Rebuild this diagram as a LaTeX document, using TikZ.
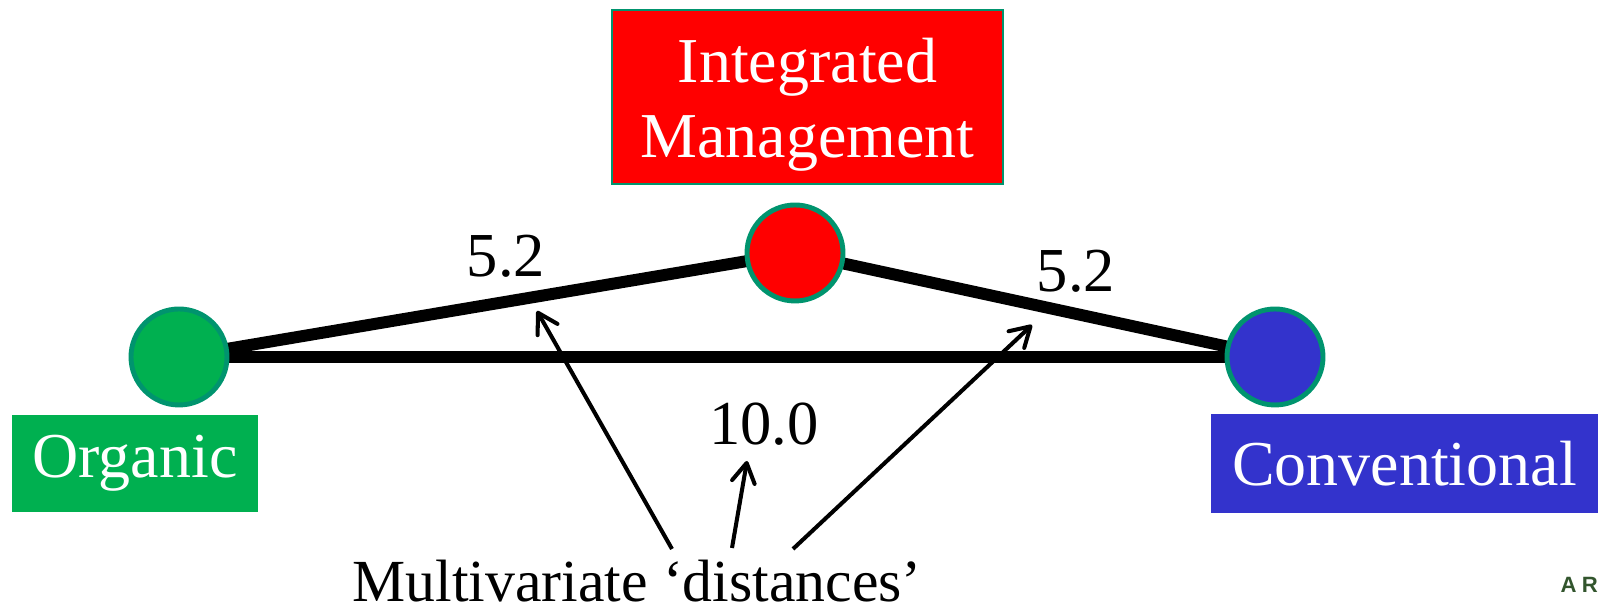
\documentclass[tikz,border=0pt]{standalone}
\usepackage{fontspec}
\setmainfont{Liberation Serif}
\newfontfamily\logofont{Liberation Sans}
\usetikzlibrary{arrows.meta,backgrounds}
\definecolor{orggreen}{RGB}{0,176,80}
\definecolor{intred}{RGB}{255,0,0}
\definecolor{convblue}{RGB}{51,51,204}
\definecolor{rimteal}{RGB}{0,148,110}
\definecolor{logogreen}{RGB}{50,85,45}

\begin{document}
\begin{tikzpicture}[x=1cm,y=1cm,
  dot/.style={circle,draw=rimteal,line width=1.4pt,minimum size=0.96cm,inner sep=0pt},
  tag/.style={inner sep=0pt,text=white,font=\fontsize{18.2}{21.3}\selectfont},
  link/.style={line width=3.4pt},
  pointer/.style={line width=1.15pt,-{Straight Barb[round,length=5.5pt,width=6.5pt]}},
  num/.style={inner sep=0pt,anchor=base,font=\fontsize{17.8}{21}\selectfont}]
  \useasboundingbox (0,0) rectangle (15.98,6.10);
  \node[tag,fill=intred,draw=rimteal,line width=0.6pt,minimum width=3.91cm,minimum height=1.74cm,align=center] (intg) at (8.075,5.13) {\rule{0pt}{16.8pt}Integrated\\Management};
  \node[tag,fill=orggreen,minimum width=2.46cm,minimum height=0.97cm] (org) at (1.35,1.465) {Organic};
  \node[tag,fill=convblue,minimum width=3.87cm,minimum height=0.99cm] (conv) at (14.045,1.465) {Conventional};
  \node[dot,fill=orggreen] (orgdot) at (1.79,2.53) {};
  \node[dot,fill=intred] (intgdot) at (7.95,3.57) {};
  \node[dot,fill=convblue] (convdot) at (12.75,2.53) {};
  \begin{scope}[on background layer]
    \draw[link] (orgdot.center) -- (convdot.center);
    \draw[link] (orgdot.center) -- (intgdot.center);
    \draw[link] (intgdot.center) -- (convdot.center);
  \end{scope}
  \node[num] (dleft) at (5.06,3.33) {5.2};
  \node[num] (dright) at (10.76,3.18) {5.2};
  \node[num] (dbase) at (7.64,1.65) {10.0};
  \node[num,anchor=base west,font=\fontsize{17}{20}\selectfont] (multi) at (3.52,0.08) {Multivariate ‘distances’};
  \coordinate (tipA) at (5.37,2.99);
  \coordinate (tipB) at (7.47,1.49);
  \coordinate (tipC) at (10.32,2.85);
  \coordinate (tailA) at (6.72,0.61);
  \coordinate (tailB) at (7.32,0.62);
  \coordinate (tailC) at (7.93,0.61);
  \draw[pointer] (tailA) -- (tipA);
  \draw[pointer] (tailB) -- (tipB);
  \draw[pointer] (tailC) -- (tipC);
  \node[inner sep=0pt,anchor=base west,text=logogreen,font=\logofont\bfseries\fontsize{6.3}{7}\selectfont] (logo) at (15.60,0.17) {A\kern1.5pt R};
\end{tikzpicture}
\end{document}
